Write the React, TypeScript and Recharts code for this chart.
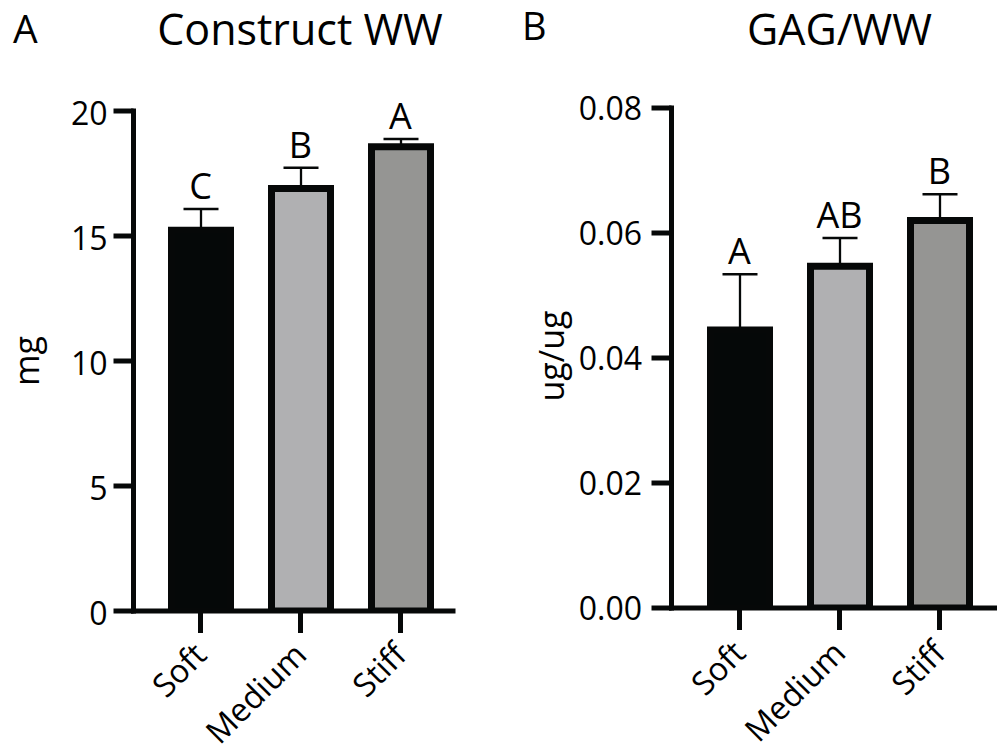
import React from 'react';
import { ComposedChart, Bar, Line, XAxis, YAxis, ErrorBar, LabelList, Cell } from 'recharts';

const categories = ['Soft', 'Medium', 'Stiff'];
const barColors = ['#050808', '#b0b0b2', '#959593'];

const wwMean = [15.23, 16.9, 18.57];
const wwErr = [0.85, 0.83, 0.31];
const wwLetters = ['C', 'B', 'A'];
const wwTicks = [0, 5, 10, 15, 20];

const gagMean = [0.0445, 0.0547, 0.062];
const gagErr = [0.0089, 0.0045, 0.0042];
const gagLetters = ['A', 'AB', 'B'];
const gagTicks = [0, 0.02, 0.04, 0.06, 0.08];

const FONT = "'Open Sans', sans-serif";
const INK = '#060808';

function buildData(mean: number[], err: number[], letters: string[]) {
  return categories.map((c, i) => ({
    name: c,
    mean: mean[i],
    err: [0, err[i]],
    top: mean[i] + err[i],
    letter: letters[i],
  }));
}

const wwData = buildData(wwMean, wwErr, wwLetters);
const gagData = buildData(gagMean, gagErr, gagLetters);

const makeYTick = (fmt: (v: number) => string, dy: number) => (props: any) => {
  const { x, y, payload } = props;
  return (
    <text x={x} y={y} dy={dy} textAnchor="end" fontSize={32} fontFamily={FONT} fill="#000">
      {fmt(payload.value)}
    </text>
  );
};

const makeXTick = (dx: number, dy: number) => (props: any) => {
  const { x, y, payload } = props;
  const ax = x + dx;
  const ay = y + dy;
  return (
    <text
      x={ax}
      y={ay}
      transform={`rotate(-45, ${ax}, ${ay})`}
      textAnchor="end"
      fontSize={32.5}
      fontFamily={FONT}
      fill="#000"
    >
      {payload.value}
    </text>
  );
};

type PanelProps = {
  data: any[];
  ticks: number[];
  domain: [number, number];
  fmt: (v: number) => string;
  left: number;
  width: number;
  top: number;
  yAxisWidth: number;
  padding: { left: number; right: number };
  marginRight: number;
  yTickDy: number;
  yTickMargin: number;
  xTickDy: number;
};

function Panel(p: PanelProps) {
  const axisStyle = { stroke: INK, strokeWidth: 5, strokeLinecap: 'square' as const };
  const tickStyle = { stroke: INK, strokeWidth: 5 };
  return (
    <div style={{ position: 'absolute', left: p.left, top: 0 }}>
      <ComposedChart
        width={p.width}
        height={754}
        data={p.data}
        margin={{ top: p.top, right: p.marginRight, bottom: 0, left: 0 }}
      >
        <XAxis
          dataKey="name"
          height={754 - p.top - 500}
          padding={p.padding}
          axisLine={axisStyle}
          tickLine={tickStyle}
          tickSize={22}
          tickMargin={0}
          tick={makeXTick(8, p.xTickDy)}
          interval={0}
        />
        <YAxis
          type="number"
          domain={p.domain}
          ticks={p.ticks}
          width={p.yAxisWidth}
          axisLine={axisStyle}
          tickLine={tickStyle}
          tickSize={20}
          tickMargin={p.yTickMargin}
          tick={makeYTick(p.fmt, p.yTickDy)}
          interval={0}
          allowDataOverflow
        />
        <Bar dataKey="mean" barSize={59} stroke={INK} strokeWidth={7} isAnimationActive={false}>
          {p.data.map((d, i) => (
            <Cell key={d.name} fill={barColors[i]} />
          ))}
          <ErrorBar dataKey="err" width={17.5} stroke={INK} strokeWidth={2.3} direction="y" isAnimationActive={false} />
        </Bar>
        <Line
          dataKey="top"
          stroke="none"
          dot={false}
          activeDot={false}
          isAnimationActive={false}
          legendType="none"
        >
          <LabelList dataKey="letter" position="top" offset={10} fill="#000" fontSize={36} fontFamily={FONT} />
        </Line>
      </ComposedChart>
    </div>
  );
}

export default function App() {
  return (
    <div style={{ position: 'absolute', left: 0, top: 0, width: 997, height: 754, background: '#fff' }}>
      <Panel
        data={wwData}
        ticks={wwTicks}
        domain={[0, 20]}
        fmt={(v) => String(v)}
        left={0}
        width={470}
        top={111}
        yAxisWidth={133.5}
        padding={{ left: 17, right: 2.5 }}
        marginRight={17}
        yTickDy={14}
        yTickMargin={6}
        xTickDy={24}
      />
      <Panel
        data={gagData}
        ticks={gagTicks}
        domain={[0, 0.08]}
        fmt={(v) => v.toFixed(2)}
        left={480}
        width={517}
        top={108}
        yAxisWidth={191.5}
        padding={{ left: 18, right: 5.5 }}
        marginRight={2}
        yTickDy={11.5}
        yTickMargin={9.5}
        xTickDy={25}
      />
      <svg
        width={997}
        height={754}
        style={{ position: 'absolute', left: 0, top: 0, pointerEvents: 'none' }}
      >
        <g fontFamily={FONT} fill="#000" style={{ pointerEvents: 'auto' }}>
          <text x={13} y={43} fontSize={39}>A</text>
          <text x={300} y={45} fontSize={43} textAnchor="middle">Construct WW</text>
          <text x={522} y={40} fontSize={38}>B</text>
          <text x={839.5} y={45} fontSize={43} textAnchor="middle">GAG/WW</text>
          <text x={39} y={361} fontSize={34} textAnchor="middle" transform="rotate(-90, 39, 361)">mg</text>
          <text x={564} y={356} fontSize={34} textAnchor="middle" transform="rotate(-90, 564, 356)">ug/ug</text>
        </g>
      </svg>
    </div>
  );
}
